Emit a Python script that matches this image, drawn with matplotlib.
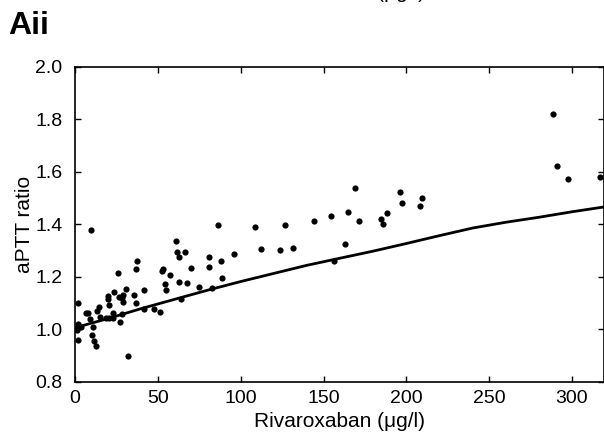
import matplotlib
matplotlib.use("Agg")
import matplotlib.pyplot as plt
from matplotlib.ticker import FormatStrFormatter

plt.rcParams['font.family'] = ['Liberation Sans', 'DejaVu Sans']

# Observed points: rivaroxaban concentration (ug/l) and aPTT ratio
conc = [9.5, 37.6, 37.0, 26.0, 2.0, 30.8, 26.4, 20.1, 20.1, 23.4,
        29.2, 28.6, 29.2, 35.8, 37.0, 14.3, 13.5, 20.7, 22.9, 6.5,
        8.0, 9.1, 15.1, 18.5, 20.7, 23.1, 28.4, 27.2, 41.7, 41.8,
        47.7, 51.3, 52.5, 53.3, 57.4, 54.3, 55.0, 61.0, 61.8, 63.0,
        66.2, 70.2, 63.0, 67.6, 63.8, 74.9, 1.8, 1.4, 1.8, 10.7,
        10.4, 11.5, 12.5, 31.8, 3.8, 86.5, 108.7, 126.8, 81.1, 88.2,
        81.1, 95.7, 112.2, 123.8, 131.5, 88.8, 82.4, 144.3, 154.8, 164.9,
        168.9, 171.7, 184.6, 185.8, 188.2, 163.0, 156.6, 196.3, 197.5, 209.7,
        208.3, 288.5, 290.9, 297.7, 317.0]
ratio = [1.377, 1.260, 1.227, 1.213, 1.099, 1.154, 1.122, 1.126, 1.116, 1.141,
         1.129, 1.120, 1.103, 1.129, 1.099, 1.084, 1.069, 1.090, 1.063, 1.063,
         1.063, 1.040, 1.045, 1.043, 1.043, 1.043, 1.059, 1.027, 1.150, 1.076,
         1.076, 1.064, 1.221, 1.227, 1.205, 1.173, 1.150, 1.334, 1.294, 1.275,
         1.294, 1.233, 1.181, 1.177, 1.113, 1.160, 1.020, 0.998, 0.958, 1.009,
         0.976, 0.954, 0.936, 0.897, 1.007, 1.396, 1.388, 1.396, 1.273, 1.261,
         1.236, 1.286, 1.304, 1.301, 1.307, 1.195, 1.156, 1.410, 1.432, 1.446,
         1.537, 1.410, 1.420, 1.400, 1.442, 1.323, 1.259, 1.522, 1.479, 1.500,
         1.469, 1.821, 1.622, 1.571, 1.581]

# Model curve
curve_x = [0, 20, 40, 60, 80, 100, 120, 140, 160, 180, 200, 220, 240, 260, 280, 300, 320]
curve_y = [1.005, 1.040, 1.078, 1.113, 1.148, 1.181, 1.212, 1.243, 1.270, 1.297,
           1.326, 1.356, 1.385, 1.407, 1.426, 1.447, 1.466]

xticks = [0, 50, 100, 150, 200, 250, 300]
yticks = [0.8, 1.0, 1.2, 1.4, 1.6, 1.8, 2.0]

fig = plt.figure(figsize=(6.04, 4.42), dpi=100)
ax = fig.add_axes([75 / 604, 60.5 / 442, 528.5 / 604, 314.8 / 442])

ax.scatter(conc, ratio, s=20, color='black', zorder=3, linewidths=0)
ax.plot(curve_x, curve_y, color='black', lw=2.0, zorder=2, solid_capstyle='butt')

ax.set_xlim(0, 319)
ax.set_ylim(0.8, 2.0)
ax.set_xticks(xticks)
ax.set_yticks(yticks)
ax.yaxis.set_major_formatter(FormatStrFormatter('%.1f'))
ax.tick_params(direction='in', top=True, right=True, length=4, width=1.0,
               labelsize=14)
ax.tick_params(axis='x', pad=6)
ax.tick_params(axis='y', pad=9)
for sp in ax.spines.values():
    sp.set_linewidth(1.2)

ax.set_xlabel('Rivaroxaban (μg/l)', fontsize=15, va='center')
ax.set_ylabel('aPTT ratio', fontsize=15, va='center')
ax.xaxis.set_label_coords(0.5, (381 - 421) / 314.8)
ax.yaxis.set_label_coords((25 - 75) / 528.5, 0.5)

fig.text(8 / 604, 1 - 34 / 442, 'Aii', fontsize=23, fontweight='bold',
         ha='left', va='baseline')
# remnant of the panel above (clipped at the top edge)
fig.text(339 / 604, 1 + 1.5 / 442, 'Rivaroxaban (μg/l)', fontsize=15,
         ha='center', va='baseline')

fig.savefig('out.png', dpi=100)
